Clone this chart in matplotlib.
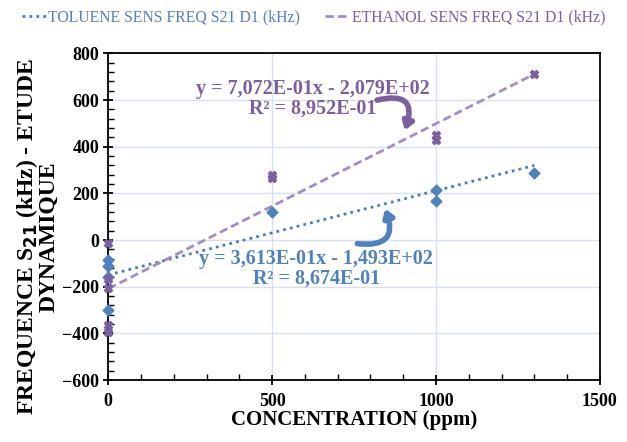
import matplotlib
matplotlib.use("Agg")
import matplotlib.pyplot as plt
import numpy as np
from matplotlib.ticker import MultipleLocator
from matplotlib.lines import Line2D

plt.rcParams['font.family'] = ['Liberation Serif', 'DejaVu Serif']

# Data
tol_x = [0, 0, 0, 0, 500, 1000, 1000, 1300]
tol_y = [-86, -110, -157, -300, 121, 214, 168, 288]
eth_x = [0, 0, 0, 0, 0, 500, 500, 1000, 1000, 1300]
eth_y = [-14, -165, -205, -362, -393, 265, 280, 430, 450, 714]
tol_fit = (0.3613, -149.3)
eth_fit = (0.7072, -207.9)
tol_label = "TOLUENE SENS FREQ S21 D1 (kHz)"
eth_label = "ETHANOL SENS FREQ S21 D1 (kHz)"
tol_eq = "y = 3,613E-01x - 1,493E+02\nR² = 8,674E-01"
eth_eq = "y = 7,072E-01x - 2,079E+02\nR² = 8,952E-01"

blue = "#4f81bd"
blue_line = "#4a7ebb"
purple = "#7c5fa0"
purple_line = "#a68bc8"
grid_c = "#d6e0f2"

fig = plt.figure(figsize=(6.27, 4.42), dpi=100)
ax = fig.add_axes([0.1727, 0.140, 0.784, 0.739])

ax.set_xlim(0, 1500)
ax.set_ylim(-600, 800)
ax.xaxis.set_major_locator(MultipleLocator(500))
ax.xaxis.set_minor_locator(MultipleLocator(100))
ax.yaxis.set_major_locator(MultipleLocator(200))
ax.yaxis.set_minor_locator(MultipleLocator(40))
ax.grid(True, which='major', color=grid_c, linewidth=1.0, zorder=0)
ax.set_axisbelow(True)
for s in ax.spines.values():
    s.set_linewidth(1.3)
    s.set_color('black')
ax.tick_params(which='major', direction='inout', length=7, width=1.3, labelsize=13)
ax.tick_params(which='minor', direction='in', length=4, width=1.0)
ax.tick_params(axis='x', which='both', top=False, pad=6)
ax.tick_params(axis='y', which='both', right=False, pad=3)
for lbl in ax.get_xticklabels() + ax.get_yticklabels():
    lbl.set_fontweight('bold')

# Trendlines
fx = np.array([0, 1300])
ax.plot(fx, tol_fit[0] * fx + tol_fit[1], linestyle=(0, (1, 1.5)), color=blue_line, lw=2.0, zorder=3)
ax.plot(fx, eth_fit[0] * fx + eth_fit[1], linestyle=(0, (3, 1.5)), color=purple_line, lw=2.0, zorder=3)

# Points
ax.scatter(tol_x, tol_y, marker='D', s=30, color=blue, zorder=4, clip_on=False)
ax.scatter(eth_x, eth_y, marker='X', s=34, color=purple, zorder=4, clip_on=False)

# Legend
h1 = Line2D([], [], linestyle=(0, (1, 1.5)), color=blue_line, lw=2.0)
h2 = Line2D([], [], linestyle=(0, (3, 1.5)), color=purple_line, lw=2.0)
leg = fig.legend([h1, h2], [tol_label, eth_label], loc='upper center', bbox_to_anchor=(0.5, 1.01),
                 ncol=2, frameon=False, fontsize=11.3, handlelength=1.6, handletextpad=0.1,
                 columnspacing=1.6)
leg.get_texts()[0].set_color(blue)
leg.get_texts()[1].set_color(purple)

# Equations
ax.text(625, 606, eth_eq, color=purple, fontsize=14.5, fontweight='bold', ha='center', va='center',
        linespacing=1.0, zorder=5)
ax.text(635, -122, tol_eq, color=blue, fontsize=14.5, fontweight='bold', ha='center', va='center',
        linespacing=1.0, zorder=5)

# Curved arrows
ax.annotate('', xy=(905, 470), xytext=(820, 600),
            arrowprops=dict(arrowstyle='-|>,head_length=0.45,head_width=0.3', color=purple, lw=4,
                            connectionstyle='arc3,rad=-0.9', shrinkA=0, shrinkB=0), zorder=5)
ax.annotate('', xy=(845, 135), xytext=(760, -15),
            arrowprops=dict(arrowstyle='-|>,head_length=0.45,head_width=0.3', color=blue, lw=4,
                            connectionstyle='arc3,rad=0.8', shrinkA=0, shrinkB=0), zorder=5)

ax.set_xlabel("CONCENTRATION (ppm)", fontsize=15, fontweight='bold', labelpad=0)
ax.set_ylabel("FREQUENCE S$_{\\mathbf{21}}$ (kHz) - ETUDE\nDYNAMIQUE", fontsize=17, fontweight='bold',
              linespacing=0.88)
ax.yaxis.set_label_coords(-0.1, 0.44)

fig.savefig("out.png", dpi=100)
